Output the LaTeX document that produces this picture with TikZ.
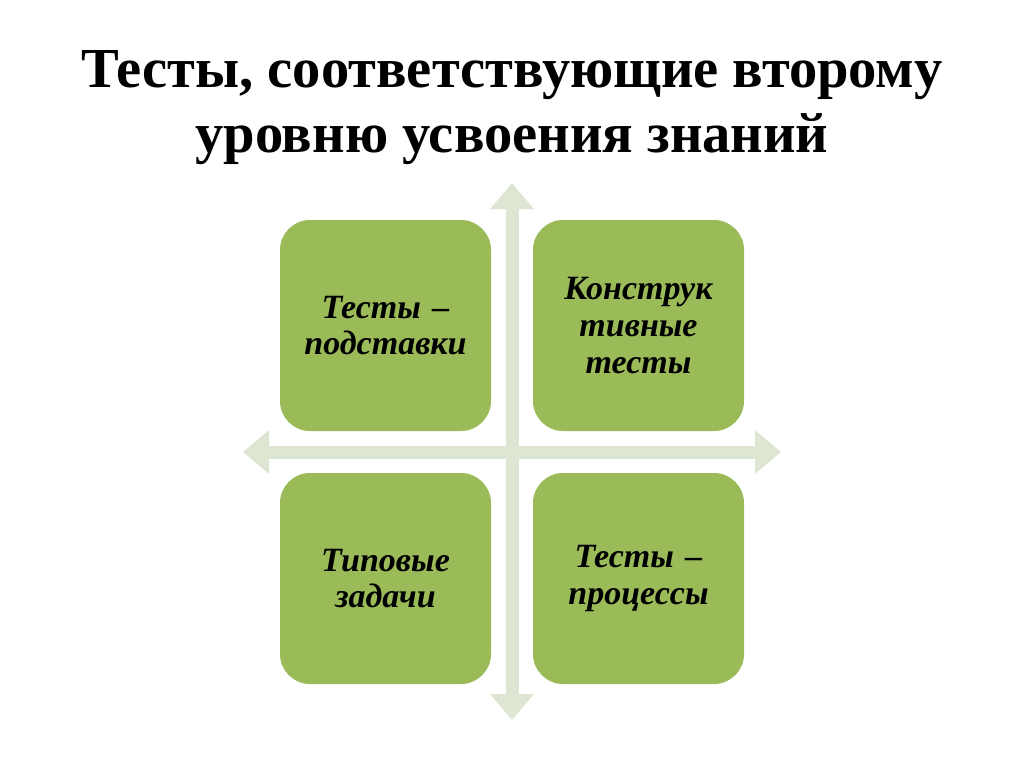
\documentclass[tikz,border=0pt]{standalone}
\usepackage{fontspec}
\setmainfont{Liberation Serif}
\usetikzlibrary{arrows.meta}
\definecolor{boxgreen}{HTML}{9BBB59}
\definecolor{arrowgray}{HTML}{DDE6D3}
\tikzset{
  card/.style={fill=boxgreen, draw=none, rounded corners=22.5pt,
    minimum width=158.25pt, minimum height=158.25pt, inner sep=0pt,
    align=center, text width=155pt,
    font=\fontsize{25.5}{27.5}\selectfont\bfseries\itshape},
  crossarrow/.style={draw=arrowgray, line width=9.75pt,
    {Triangle[length=19.5pt,width=31.5pt]}-{Triangle[length=19.5pt,width=31.5pt]}},
  titletext/.style={align=center, font=\fontsize{42.4}{48.75}\selectfont\bfseries}
}
\begin{document}
\begin{tikzpicture}[x=0.75pt,y=-0.75pt]
\useasboundingbox (0,0) rectangle (1024,767);
\fill[white] (0,0) rectangle (1024,767);
\node[titletext] (title) at (512,108) {Тесты, соответствующие второму\\уровню усвоения знаний};
\coordinate (vtop) at (512,183);
\coordinate (vbot) at (512,720);
\coordinate (hleft) at (243,452);
\coordinate (hright) at (781,452);
\draw[crossarrow] (vtop) -- (vbot);
\draw[crossarrow] (hleft) -- (hright);
\node[card] (tl) at (385.5,325.5) {Тесты –\\подставки};
\node[card] (tr) at (638.5,325.5) {Конструк\\тивные\\тесты};
\node[card] (bl) at (385.5,578.5) {Типовые\\задачи};
\node[card] (br) at (638.5,578.5) {Тесты –\\процессы};
\end{tikzpicture}
\end{document}
